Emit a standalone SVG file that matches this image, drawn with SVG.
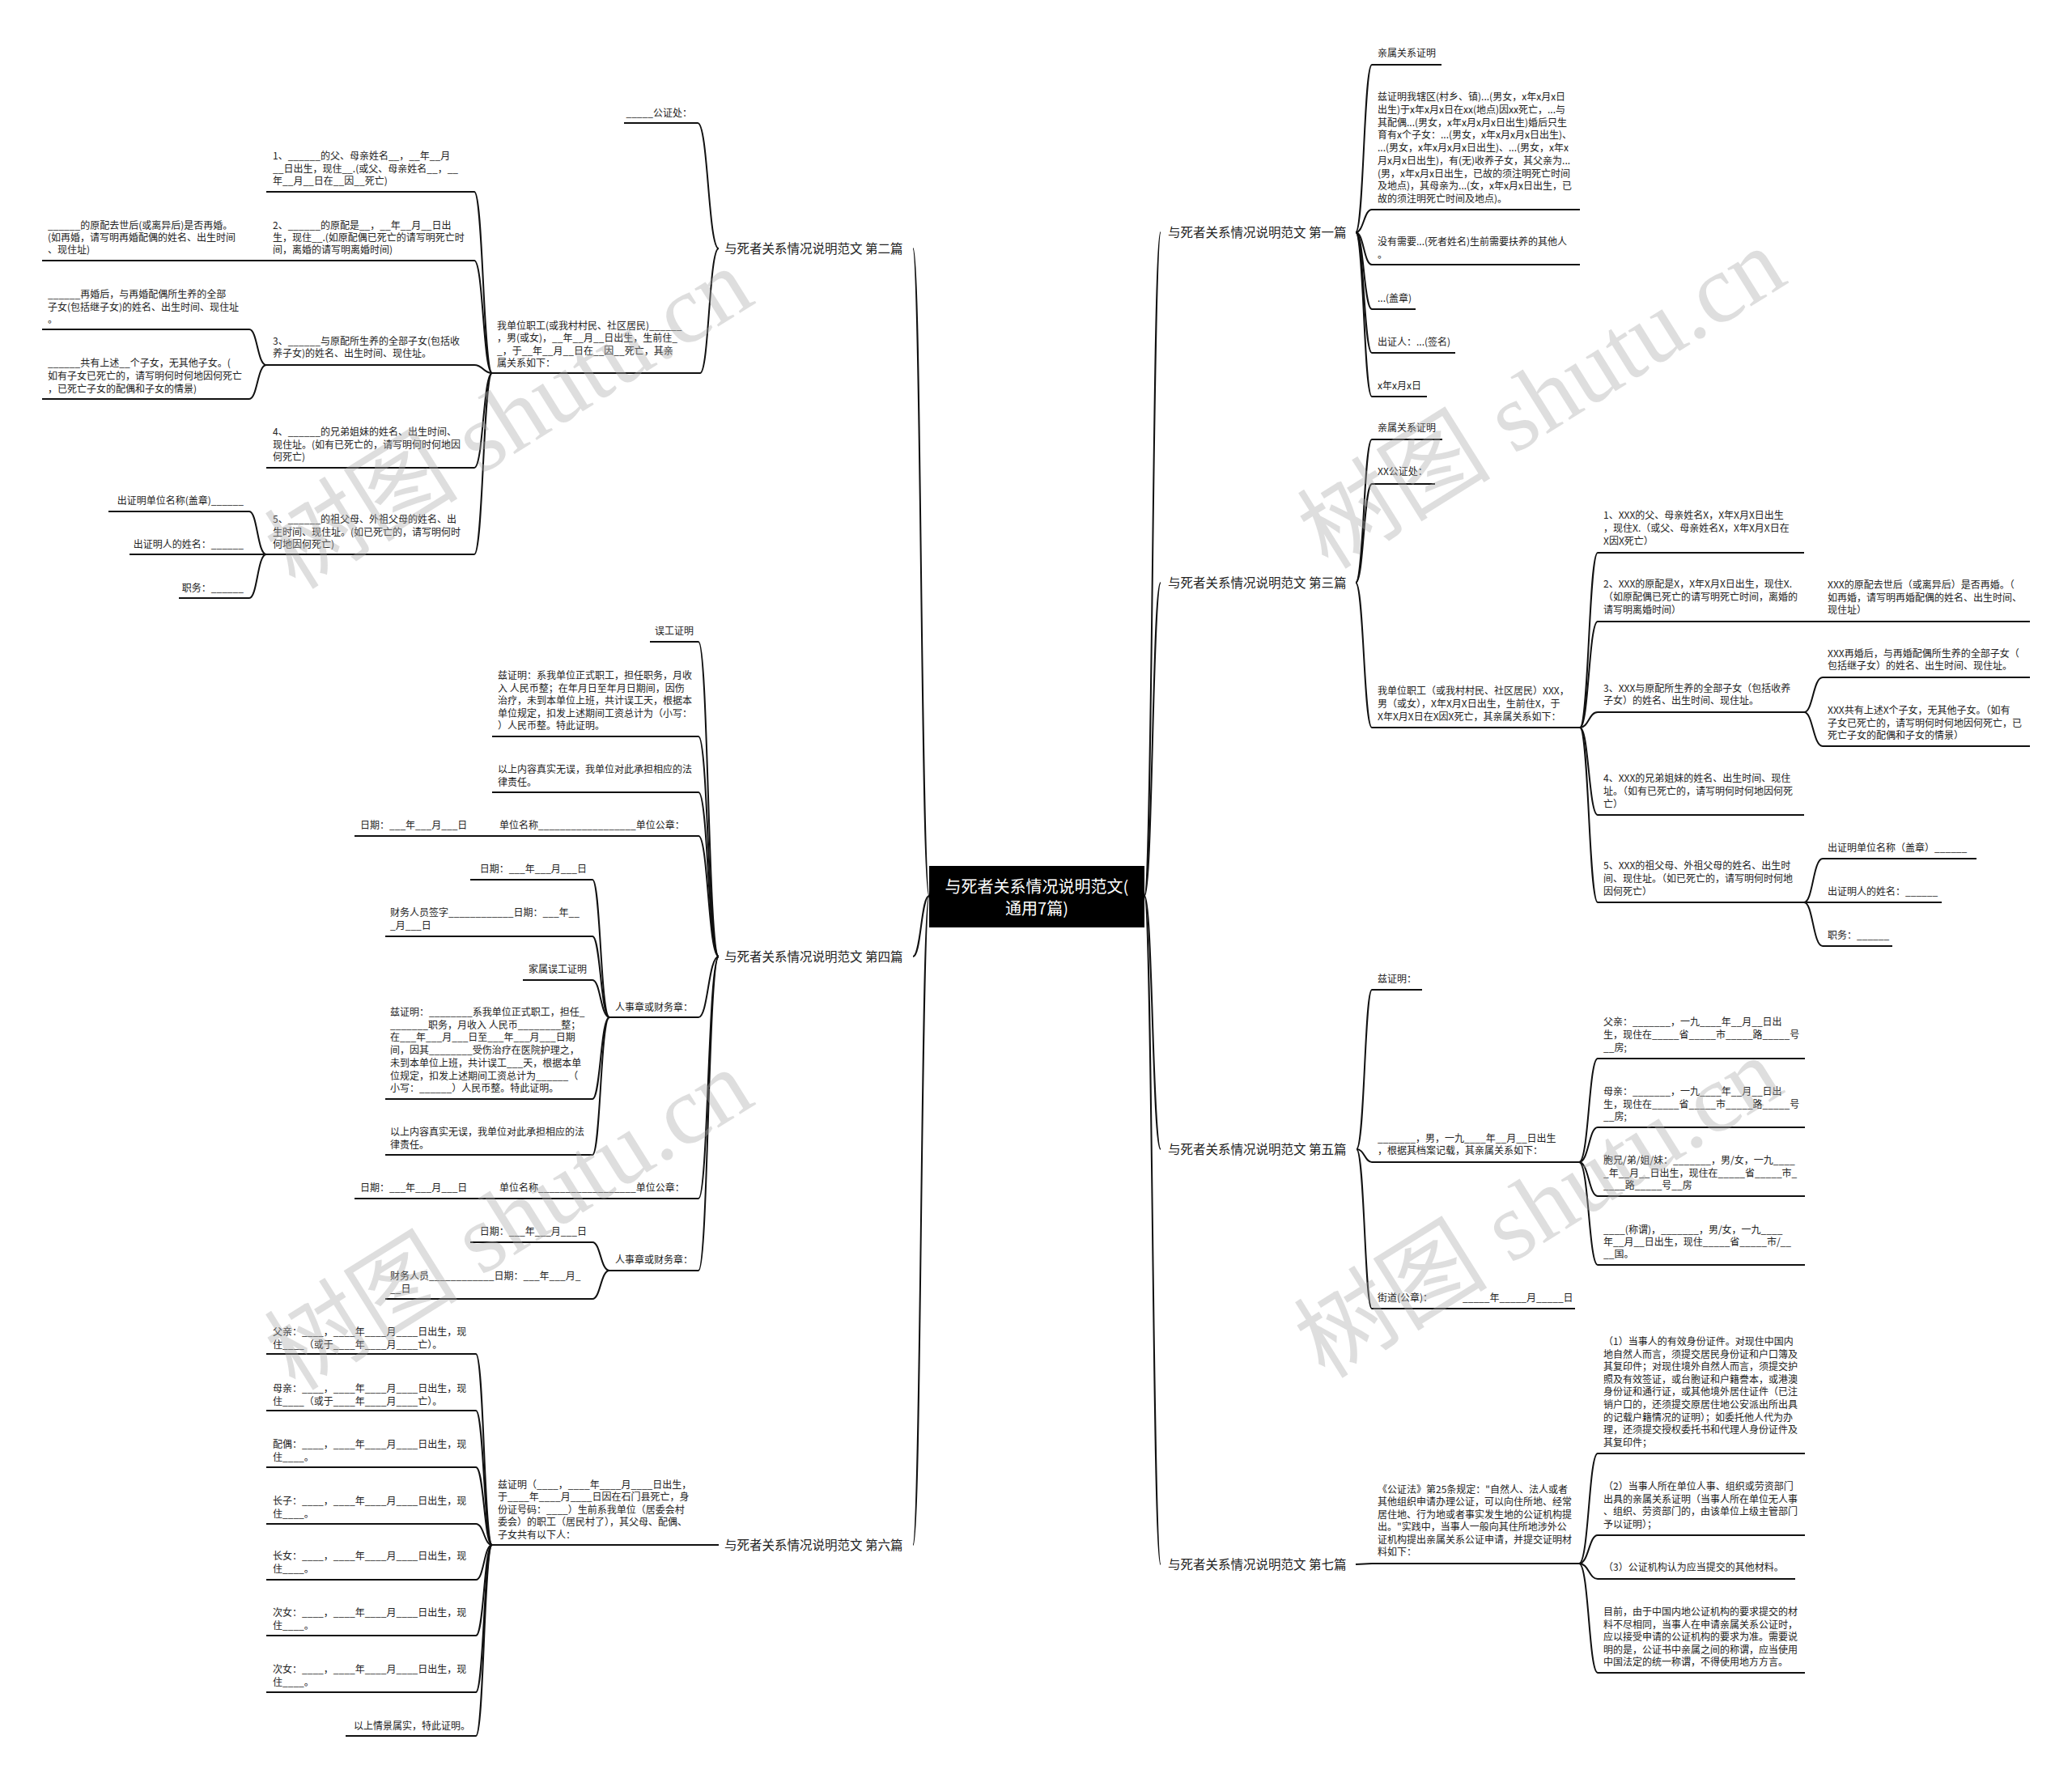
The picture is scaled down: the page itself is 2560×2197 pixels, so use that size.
<svg xmlns="http://www.w3.org/2000/svg" width="2560" height="2197" viewBox="0 0 2560 2197">
<style>
.t{font-family:'Noto Sans CJK SC','Noto Sans',sans-serif;font-size:12px;fill:#222}
.e{text-anchor:end}
.lb{font-family:'Noto Sans CJK SC','Noto Sans',sans-serif;font-size:15.5px;fill:#222}
.ct{font-family:'Noto Sans CJK SC','Noto Sans',sans-serif;font-size:20px;fill:#fff;text-anchor:middle}
.ul{stroke:#111;stroke-width:2;fill:none}
#connectors path{stroke:#111;stroke-width:2;fill:none}
.wm{font-family:'Liberation Serif','Noto Sans CJK SC',serif;font-size:120px;fill:#aaa;opacity:.38}
</style>
<rect width="2560" height="2197" fill="#fff"/>
<g id="connectors">
<path d="M1414,1107 C1424,1107 1424,287 1434,287"/>
<path d="M1414,1107 C1424,1107 1424,720 1434,720"/>
<path d="M1414,1107 C1424,1107 1424,1420 1434,1420"/>
<path d="M1414,1107 C1424,1107 1424,1933 1434,1933"/>
<path d="M1148,1107 C1138,1107 1138,307 1128,307"/>
<path d="M1148,1107 C1138,1107 1138,1182 1128,1182"/>
<path d="M1148,1107 C1138,1107 1138,1909 1128,1909"/>
<path d="M1675,287 C1685,287 1685,80 1695,80"/>
<path d="M1675,287 C1685,287 1685,259 1695,259"/>
<path d="M1675,287 C1685,287 1685,327 1695,327"/>
<path d="M1675,287 C1685,287 1685,382 1695,382"/>
<path d="M1675,287 C1685,287 1685,436 1695,436"/>
<path d="M1675,287 C1685,287 1685,490 1695,490"/>
<path d="M1675,720 C1685,720 1685,543 1695,543"/>
<path d="M1675,720 C1685,720 1685,598 1695,598"/>
<path d="M1675,720 C1685,720 1685,899 1695,899"/>
<path d="M1952,899 C1963,899 1963,683 1974,683"/>
<path d="M1952,899 C1963,899 1963,768 1974,768"/>
<path d="M1952,899 C1963,899 1963,880 1974,880"/>
<path d="M1952,899 C1963,899 1963,1007 1974,1007"/>
<path d="M1952,899 C1963,899 1963,1115 1974,1115"/>
<path d="M2229,768 L2252,768"/>
<path d="M2229,880 C2240,880 2240,837 2252,837"/>
<path d="M2229,880 C2240,880 2240,922 2252,922"/>
<path d="M2229,1115 C2240,1115 2240,1061 2252,1061"/>
<path d="M2229,1115 L2252,1115"/>
<path d="M2229,1115 C2240,1115 2240,1169 2252,1169"/>
<path d="M1676,1420 C1686,1420 1686,1223 1695,1223"/>
<path d="M1676,1420 C1686,1420 1686,1436 1695,1436"/>
<path d="M1676,1420 C1686,1420 1686,1617 1695,1617"/>
<path d="M1951,1436 C1963,1436 1963,1308 1974,1308"/>
<path d="M1951,1436 C1963,1436 1963,1393 1974,1393"/>
<path d="M1951,1436 C1963,1436 1963,1478 1974,1478"/>
<path d="M1951,1436 C1963,1436 1963,1563 1974,1563"/>
<path d="M1675,1933 L1695,1932"/>
<path d="M1951,1932 C1963,1932 1963,1796 1974,1796"/>
<path d="M1951,1932 C1963,1932 1963,1897 1974,1897"/>
<path d="M1951,1932 C1963,1932 1963,1951 1974,1951"/>
<path d="M1951,1932 C1963,1932 1963,2067 1974,2067"/>
<path d="M888,307 C875,307 875,152 862,152"/>
<path d="M888,307 C876,307 876,461 865,461"/>
<path d="M608,461 C597,461 597,237 586,237"/>
<path d="M608,461 C597,461 597,322 586,322"/>
<path d="M608,461 C597,461 597,451 586,451"/>
<path d="M608,461 C597,461 597,578 586,578"/>
<path d="M608,461 C597,461 597,685 586,685"/>
<path d="M329,322 L308,322"/>
<path d="M329,451 C318,451 318,407 308,407"/>
<path d="M329,451 C318,451 318,493 308,493"/>
<path d="M329,685 C318,685 318,632 308,632"/>
<path d="M329,685 L308,685"/>
<path d="M329,685 C318,685 318,739 308,739"/>
<path d="M888,1182 C875,1182 875,793 863,793"/>
<path d="M888,1182 C875,1182 875,910 863,910"/>
<path d="M888,1182 C875,1182 875,979 863,979"/>
<path d="M888,1182 C875,1182 875,1033 863,1033"/>
<path d="M888,1182 C875,1182 875,1257 863,1257"/>
<path d="M888,1182 C875,1182 875,1481 863,1481"/>
<path d="M888,1182 C875,1182 875,1570 863,1570"/>
<path d="M608,1033 L590,1033"/>
<path d="M753,1257 C742,1257 742,1087 732,1087"/>
<path d="M753,1257 C742,1257 742,1157 732,1157"/>
<path d="M753,1257 C742,1257 742,1211 732,1211"/>
<path d="M753,1257 C742,1257 742,1358 732,1358"/>
<path d="M753,1257 C742,1257 742,1427 732,1427"/>
<path d="M608,1481 L590,1481"/>
<path d="M753,1570 C742,1570 742,1535 732,1535"/>
<path d="M753,1570 C742,1570 742,1605 732,1605"/>
<path d="M888,1909 L878,1909"/>
<path d="M608,1909 C598,1909 598,1673 588,1673"/>
<path d="M608,1909 C598,1909 598,1743 588,1743"/>
<path d="M608,1909 C598,1909 598,1813 588,1813"/>
<path d="M608,1909 C598,1909 598,1883 588,1883"/>
<path d="M608,1909 C598,1909 598,1952 588,1952"/>
<path d="M608,1909 C598,1909 598,2021 588,2021"/>
<path d="M608,1909 C598,1909 598,2091 588,2091"/>
<path d="M608,1909 C598,1909 598,2145 588,2145"/>
</g>
<g id="center">
<rect x="1148" y="1070" width="266" height="76" fill="#000"/>
<text class="ct" x="1281" y="1103">与死者关系情况说明范文(</text>
<text class="ct" x="1281" y="1130">通用7篇)</text>
</g>
<g id="b1"><text class="lb" x="1443" y="292.5">与死者关系情况说明范文 第一篇</text></g>
<g id="b3"><text class="lb" x="1443" y="725.5">与死者关系情况说明范文 第三篇</text></g>
<g id="b5"><text class="lb" x="1443" y="1425.5">与死者关系情况说明范文 第五篇</text></g>
<g id="b7"><text class="lb" x="1443" y="1938.5">与死者关系情况说明范文 第七篇</text></g>
<g id="b2"><text class="lb" x="895" y="312.5">与死者关系情况说明范文 第二篇</text></g>
<g id="b4"><text class="lb" x="895" y="1187.5">与死者关系情况说明范文 第四篇</text></g>
<g id="b6"><text class="lb" x="895" y="1914.5">与死者关系情况说明范文 第六篇</text></g>

<g id="n1a"><text class="t" x="1702" y="70">亲属关系证明</text><path class="ul" d="M1695,80 H1781"/></g>
<g id="n1b"><text class="t"><tspan x="1702" y="124">兹证明我辖区(村乡、镇)...(男女，x年x月x日</tspan><tspan x="1702" dy="15.75">出生)于x年x月x日在xx(地点)因xx死亡，...与</tspan><tspan x="1702" dy="15.75">其配偶...(男女，x年x月x月x日出生)婚后只生</tspan><tspan x="1702" dy="15.75">育有x个子女：...(男女，x年x月x月x日出生)、</tspan><tspan x="1702" dy="15.75">...(男女，x年x月x月x日出生)、...(男女，x年x</tspan><tspan x="1702" dy="15.75">月x月x日出生)，有(无)收养子女，其父亲为...</tspan><tspan x="1702" dy="15.75">(男，x年x月x日出生，已故的须注明死亡时间</tspan><tspan x="1702" dy="15.75">及地点)，其母亲为...(女，x年x月x日出生，已</tspan><tspan x="1702" dy="15.75">故的须注明死亡时间及地点)。</tspan></text><path class="ul" d="M1695,259 H1952"/></g>
<g id="n1c"><text class="t"><tspan x="1702" y="303">没有需要...(死者姓名)生前需要扶养的其他人</tspan><tspan x="1702" dy="16">。</tspan></text><path class="ul" d="M1695,327 H1952"/></g>
<g id="n1d"><text class="t" x="1702" y="373">...(盖章)</text><path class="ul" d="M1695,382 H1749"/></g>
<g id="n1e"><text class="t" x="1702" y="427">出证人：...(签名)</text><path class="ul" d="M1695,436 H1798"/></g>
<g id="n1f"><text class="t" x="1702" y="481">x年x月x日</text><path class="ul" d="M1695,490 H1763"/></g>

<g id="n3a"><text class="t" x="1702" y="533">亲属关系证明</text><path class="ul" d="M1695,543 H1782"/></g>
<g id="n3b"><text class="t" x="1702" y="587">XX公证处：</text><path class="ul" d="M1695,598 H1773"/></g>
<g id="n3c"><text class="t"><tspan x="1702" y="858">我单位职工（或我村村民、社区居民）XXX，</tspan><tspan x="1702" dy="16">男（或女），X年X月X日出生，生前住X，于</tspan><tspan x="1702" dy="16">X年X月X日在X因X死亡，其亲属关系如下：</tspan></text><path class="ul" d="M1695,899 H1952"/></g>
<g id="n3c1"><text class="t"><tspan x="1981" y="641">1、XXX的父、母亲姓名X，X年X月X日出生</tspan><tspan x="1981" dy="16">，现住X.（或父、母亲姓名X，X年X月X日在</tspan><tspan x="1981" dy="16">X因X死亡）</tspan></text><path class="ul" d="M1974,683 H2229"/></g>
<g id="n3c2"><text class="t"><tspan x="1981" y="726">2、XXX的原配是X，X年X月X日出生，现住X.</tspan><tspan x="1981" dy="16">（如原配偶已死亡的请写明死亡时间，离婚的</tspan><tspan x="1981" dy="16">请写明离婚时间）</tspan></text><path class="ul" d="M1974,768 H2229"/></g>
<g id="n3c3"><text class="t"><tspan x="1981" y="855">3、XXX与原配所生养的全部子女（包括收养</tspan><tspan x="1981" dy="15">子女）的姓名、出生时间、现住址。</tspan></text><path class="ul" d="M1974,880 H2229"/></g>
<g id="n3c4"><text class="t"><tspan x="1981" y="966">4、XXX的兄弟姐妹的姓名、出生时间、现住</tspan><tspan x="1981" dy="16">址。（如有已死亡的，请写明何时何地因何死</tspan><tspan x="1981" dy="16">亡）</tspan></text><path class="ul" d="M1974,1007 H2229"/></g>
<g id="n3c5"><text class="t"><tspan x="1981" y="1074">5、XXX的祖父母、外祖父母的姓名、出生时</tspan><tspan x="1981" dy="16">间、现住址。（如已死亡的，请写明何时何地</tspan><tspan x="1981" dy="16">因何死亡）</tspan></text><path class="ul" d="M1974,1115 H2229"/></g>
<g id="n3c2a"><text class="t"><tspan x="2258" y="727">XXX的原配去世后（或离异后）是否再婚。（</tspan><tspan x="2258" dy="15.5">如再婚，请写明再婚配偶的姓名、出生时间、</tspan><tspan x="2258" dy="15.5">现住址）</tspan></text><path class="ul" d="M2252,768 H2508"/></g>
<g id="n3c3a"><text class="t"><tspan x="2258" y="812">XXX再婚后，与再婚配偶所生养的全部子女（</tspan><tspan x="2258" dy="15">包括继子女）的姓名、出生时间、现住址。</tspan></text><path class="ul" d="M2252,837 H2508"/></g>
<g id="n3c3b"><text class="t"><tspan x="2258" y="882">XXX共有上述X个子女，无其他子女。（如有</tspan><tspan x="2258" dy="15.5">子女已死亡的，请写明何时何地因何死亡，已</tspan><tspan x="2258" dy="15.5">死亡子女的配偶和子女的情景）</tspan></text><path class="ul" d="M2252,922 H2508"/></g>
<g id="n3c5a"><text class="t" x="2258" y="1052">出证明单位名称（盖章）______</text><path class="ul" d="M2252,1061 H2442"/></g>
<g id="n3c5b"><text class="t" x="2258" y="1106">出证明人的姓名：______</text><path class="ul" d="M2252,1115 H2399"/></g>
<g id="n3c5c"><text class="t" x="2258" y="1160">职务：______</text><path class="ul" d="M2252,1169 H2338"/></g>

<g id="n5a"><text class="t" x="1702" y="1214">兹证明：</text><path class="ul" d="M1695,1223 H1757"/></g>
<g id="n5b"><text class="t"><tspan x="1702" y="1411">_______，男，一九____年__月__日出生</tspan><tspan x="1702" dy="15">，根据其档案记载，其亲属关系如下：</tspan></text><path class="ul" d="M1695,1436 H1951"/></g>
<g id="n5c"><text class="t" y="1608"><tspan x="1702">街道(公章)：</tspan><tspan x="1807">_____年_____月_____日</tspan></text><path class="ul" d="M1695,1617 H1946"/></g>
<g id="n5b1"><text class="t"><tspan x="1981" y="1267">父亲：_______，一九____年__月__日出</tspan><tspan x="1981" dy="16">生，现住在_____省_____市_____路_____号</tspan><tspan x="1981" dy="16">__房;</tspan></text><path class="ul" d="M1974,1308 H2230"/></g>
<g id="n5b2"><text class="t"><tspan x="1981" y="1353">母亲：_______，一九____年__月__日出</tspan><tspan x="1981" dy="15.5">生，现住在_____省_____市_____路_____号</tspan><tspan x="1981" dy="15.5">__房;</tspan></text><path class="ul" d="M1974,1393 H2230"/></g>
<g id="n5b3"><text class="t"><tspan x="1981" y="1438">胞兄/弟/姐/妹：_______，男/女，一九____</tspan><tspan x="1981" dy="15.5">_年__月__日出生，现住在_____省_____市_</tspan><tspan x="1981" dy="15.5">____路_____号__房</tspan></text><path class="ul" d="M1974,1478 H2230"/></g>
<g id="n5b4"><text class="t"><tspan x="1981" y="1524">____(称谓)，_______，男/女，一九____</tspan><tspan x="1981" dy="15">年__月__日出生，现住_____省_____市/__</tspan><tspan x="1981" dy="15">__国。</tspan></text><path class="ul" d="M1974,1563 H2230"/></g>

<g id="n7a"><text class="t"><tspan x="1702" y="1845">《公证法》第25条规定："自然人、法人或者</tspan><tspan x="1702" dy="15.4">其他组织申请办理公证，可以向住所地、经常</tspan><tspan x="1702" dy="15.4">居住地、行为地或者事实发生地的公证机构提</tspan><tspan x="1702" dy="15.4">出。"实践中，当事人一般向其住所地涉外公</tspan><tspan x="1702" dy="15.4">证机构提出亲属关系公证申请，并提交证明材</tspan><tspan x="1702" dy="15.4">料如下：</tspan></text><path class="ul" d="M1695,1932 H1951"/></g>
<g id="n7a1"><text class="t"><tspan x="1981" y="1662">（1）当事人的有效身份证件。对现住中国内</tspan><tspan x="1981" dy="15.6">地自然人而言，须提交居民身份证和户口簿及</tspan><tspan x="1981" dy="15.6">其复印件；对现住境外自然人而言，须提交护</tspan><tspan x="1981" dy="15.6">照及有效签证，或台胞证和户籍誊本，或港澳</tspan><tspan x="1981" dy="15.6">身份证和通行证，或其他境外居住证件（已注</tspan><tspan x="1981" dy="15.6">销户口的，还须提交原居住地公安派出所出具</tspan><tspan x="1981" dy="15.6">的记载户籍情况的证明）；如委托他人代为办</tspan><tspan x="1981" dy="15.6">理，还须提交授权委托书和代理人身份证件及</tspan><tspan x="1981" dy="15.6">其复印件；</tspan></text><path class="ul" d="M1974,1796 H2230"/></g>
<g id="n7a2"><text class="t"><tspan x="1981" y="1841">（2）当事人所在单位人事、组织或劳资部门</tspan><tspan x="1981" dy="15.6">出具的亲属关系证明（当事人所在单位无人事</tspan><tspan x="1981" dy="15.6">、组织、劳资部门的，由该单位上级主管部门</tspan><tspan x="1981" dy="15.6">予以证明）；</tspan></text><path class="ul" d="M1974,1897 H2230"/></g>
<g id="n7a3"><text class="t" x="1981" y="1941">（3）公证机构认为应当提交的其他材料。</text><path class="ul" d="M1974,1951 H2218"/></g>
<g id="n7a4"><text class="t"><tspan x="1981" y="1996">目前，由于中国内地公证机构的要求提交的材</tspan><tspan x="1981" dy="15.5">料不尽相同，当事人在申请亲属关系公证时，</tspan><tspan x="1981" dy="15.5">应以接受申请的公证机构的要求为准。需要说</tspan><tspan x="1981" dy="15.5">明的是，公证书中亲属之间的称谓，应当使用</tspan><tspan x="1981" dy="15.5">中国法定的统一称谓，不得使用地方方言。</tspan></text><path class="ul" d="M1974,2067 H2230"/></g>

<g id="L2a"><text class="t e" x="855" y="144">_____公证处：</text><path class="ul" d="M771,152 H862"/></g>
<g id="L2b"><text class="t"><tspan x="614" y="407">我单位职工(或我村村民、社区居民)______</tspan><tspan x="614" dy="15.4">，男(或女)，__年__月__日出生，生前住_</tspan><tspan x="614" dy="15.4">_，于__年__月__日在__因__死亡，其亲</tspan><tspan x="614" dy="15.4">属关系如下：</tspan></text><path class="ul" d="M608,461 H865"/></g>
<g id="L2b1"><text class="t"><tspan x="337" y="197">1、______的父、母亲姓名__，__年__月</tspan><tspan x="337" dy="15.5">__日出生，现住__.(或父、母亲姓名__，__</tspan><tspan x="337" dy="15.5">年__月__日在__因__死亡)</tspan></text><path class="ul" d="M329,237 H586"/></g>
<g id="L2b2"><text class="t"><tspan x="337" y="283">2、______的原配是__，__年__月__日出</tspan><tspan x="337" dy="15">生，现住__.(如原配偶已死亡的请写明死亡时</tspan><tspan x="337" dy="15">间，离婚的请写明离婚时间)</tspan></text><path class="ul" d="M329,322 H586"/></g>
<g id="L2b3"><text class="t"><tspan x="337" y="426">3、______与原配所生养的全部子女(包括收</tspan><tspan x="337" dy="15">养子女)的姓名、出生时间、现住址。</tspan></text><path class="ul" d="M329,451 H586"/></g>
<g id="L2b4"><text class="t"><tspan x="337" y="538">4、______的兄弟姐妹的姓名、出生时间、</tspan><tspan x="337" dy="15.5">现住址。(如有已死亡的，请写明何时何地因</tspan><tspan x="337" dy="15.5">何死亡)</tspan></text><path class="ul" d="M329,578 H586"/></g>
<g id="L2b5"><text class="t"><tspan x="337" y="646">5、______的祖父母、外祖父母的姓名、出</tspan><tspan x="337" dy="15.5">生时间、现住址。(如已死亡的，请写明何时</tspan><tspan x="337" dy="15.5">何地因何死亡)</tspan></text><path class="ul" d="M329,685 H586"/></g>
<g id="L2b2a"><text class="t"><tspan x="59" y="283">______的原配去世后(或离异后)是否再婚。</tspan><tspan x="59" dy="15">(如再婚，请写明再婚配偶的姓名、出生时间</tspan><tspan x="59" dy="15">、现住址)</tspan></text><path class="ul" d="M52,322 H308"/></g>
<g id="L2b3a"><text class="t"><tspan x="59" y="368">______再婚后，与再婚配偶所生养的全部</tspan><tspan x="59" dy="15.5">子女(包括继子女)的姓名、出生时间、现住址</tspan><tspan x="59" dy="15.5">。</tspan></text><path class="ul" d="M52,407 H308"/></g>
<g id="L2b3b"><text class="t"><tspan x="59" y="453">______共有上述__个子女，无其他子女。(</tspan><tspan x="59" dy="16">如有子女已死亡的，请写明何时何地因何死亡</tspan><tspan x="59" dy="16">，已死亡子女的配偶和子女的情景)</tspan></text><path class="ul" d="M52,493 H308"/></g>
<g id="L2b5a"><text class="t e" x="301" y="623">出证明单位名称(盖章)______</text><path class="ul" d="M134,632 H308"/></g>
<g id="L2b5b"><text class="t e" x="301" y="677">出证明人的姓名：______</text><path class="ul" d="M160,685 H308"/></g>
<g id="L2b5c"><text class="t e" x="301" y="731">职务：______</text><path class="ul" d="M221,739 H308"/></g>

<g id="L4a"><text class="t e" x="857" y="784">误工证明</text><path class="ul" d="M803,793 H863"/></g>
<g id="L4b"><text class="t"><tspan x="615" y="839">兹证明：系我单位正式职工，担任职务，月收</tspan><tspan x="615" dy="15.5">入 人民币整；在年月日至年月日期间，因伤</tspan><tspan x="615" dy="15.5">治疗，未到本单位上班，共计误工天，根据本</tspan><tspan x="615" dy="15.5">单位规定，扣发上述期间工资总计为（小写：</tspan><tspan x="615" dy="15.5">）人民币整。特此证明。</tspan></text><path class="ul" d="M608,910 H863"/></g>
<g id="L4c"><text class="t"><tspan x="615" y="955">以上内容真实无误，我单位对此承担相应的法</tspan><tspan x="615" dy="16">律责任。</tspan></text><path class="ul" d="M608,979 H863"/></g>
<g id="L4d"><text class="t" x="617" y="1024">单位名称__________________单位公章：</text><path class="ul" d="M608,1033 H863"/></g>
<g id="L4d1"><text class="t" x="445" y="1024">日期：___年___月___日</text><path class="ul" d="M438,1033 H590"/></g>
<g id="L4e"><text class="t e" x="856" y="1249">人事章或财务章：</text><path class="ul" d="M753,1257 H863"/></g>
<g id="L4e1"><text class="t e" x="725" y="1078">日期：___年___月___日</text><path class="ul" d="M581,1087 H732"/></g>
<g id="L4e2"><text class="t"><tspan x="482" y="1132">财务人员签字____________日期：___年__</tspan><tspan x="482" dy="16">_月___日</tspan></text><path class="ul" d="M476,1157 H732"/></g>
<g id="L4e3"><text class="t e" x="725" y="1202">家属误工证明</text><path class="ul" d="M646,1211 H732"/></g>
<g id="L4e4"><text class="t"><tspan x="482" y="1255">兹证明：________系我单位正式职工，担任_</tspan><tspan x="482" dy="15.7">_______职务，月收入 人民币________整；</tspan><tspan x="482" dy="15.7">在___年___月___日至___年___月___日期</tspan><tspan x="482" dy="15.7">间，因其________受伤治疗在医院护理之，</tspan><tspan x="482" dy="15.7">未到本单位上班，共计误工___天，根据本单</tspan><tspan x="482" dy="15.7">位规定，扣发上述期间工资总计为______（</tspan><tspan x="482" dy="15.7">小写：______）人民币整。特此证明。</tspan></text><path class="ul" d="M476,1358 H732"/></g>
<g id="L4e5"><text class="t"><tspan x="482" y="1403">以上内容真实无误，我单位对此承担相应的法</tspan><tspan x="482" dy="16">律责任。</tspan></text><path class="ul" d="M476,1427 H732"/></g>
<g id="L4f"><text class="t" x="617" y="1472">单位名称__________________单位公章：</text><path class="ul" d="M608,1481 H863"/></g>
<g id="L4f1"><text class="t" x="445" y="1472">日期：___年___月___日</text><path class="ul" d="M438,1481 H590"/></g>
<g id="L4g"><text class="t e" x="856" y="1561">人事章或财务章：</text><path class="ul" d="M753,1570 H863"/></g>
<g id="L4g1"><text class="t e" x="725" y="1526">日期：___年___月___日</text><path class="ul" d="M581,1535 H732"/></g>
<g id="L4g2"><text class="t"><tspan x="482" y="1581">财务人员____________日期：___年___月_</tspan><tspan x="482" dy="15.5">__日</tspan></text><path class="ul" d="M476,1605 H732"/></g>

<g id="L6a"><text class="t"><tspan x="615" y="1839">兹证明（____，____年____月____日出生，</tspan><tspan x="615" dy="15.4">于____年____月____日因在石门县死亡，身</tspan><tspan x="615" dy="15.4">份证号码：____）生前系我单位（居委会村</tspan><tspan x="615" dy="15.4">委会）的职工（居民村了），其父母、配偶、</tspan><tspan x="615" dy="15.4">子女共有以下人：</tspan></text><path class="ul" d="M608,1909 H878"/></g>
<g id="L6a1"><text class="t"><tspan x="337" y="1650">父亲：____，____年____月____日出生，现</tspan><tspan x="337" dy="16">住____（或于____年____月____亡）。</tspan></text><path class="ul" d="M329,1673 H588"/></g>
<g id="L6a2"><text class="t"><tspan x="337" y="1720">母亲：____，____年____月____日出生，现</tspan><tspan x="337" dy="15.5">住____（或于____年____月____亡）。</tspan></text><path class="ul" d="M329,1743 H588"/></g>
<g id="L6a3"><text class="t"><tspan x="337" y="1789">配偶：____，____年____月____日出生，现</tspan><tspan x="337" dy="16">住____。</tspan></text><path class="ul" d="M329,1813 H588"/></g>
<g id="L6a4"><text class="t"><tspan x="337" y="1859">长子：____，____年____月____日出生，现</tspan><tspan x="337" dy="15.5">住____。</tspan></text><path class="ul" d="M329,1883 H588"/></g>
<g id="L6a5"><text class="t"><tspan x="337" y="1927">长女：____，____年____月____日出生，现</tspan><tspan x="337" dy="16">住____。</tspan></text><path class="ul" d="M329,1952 H588"/></g>
<g id="L6a6"><text class="t"><tspan x="337" y="1997">次女：____，____年____月____日出生，现</tspan><tspan x="337" dy="15.5">住____。</tspan></text><path class="ul" d="M329,2021 H588"/></g>
<g id="L6a7"><text class="t"><tspan x="337" y="2067">次女：____，____年____月____日出生，现</tspan><tspan x="337" dy="15.5">住____。</tspan></text><path class="ul" d="M329,2091 H588"/></g>
<g id="L6a8"><text class="t e" x="581" y="2137">以上情景属实，特此证明。</text><path class="ul" d="M427,2145 H588"/></g>

<g id="watermarks">
<text class="wm" transform="translate(365,730) rotate(-32)">树图 shutu.cn</text>
<text class="wm" transform="translate(1641,705) rotate(-32)">树图 shutu.cn</text>
<text class="wm" transform="translate(365,1720) rotate(-32)">树图 shutu.cn</text>
<text class="wm" transform="translate(1637,1705) rotate(-32)">树图 shutu.cn</text>
</g>
</svg>
